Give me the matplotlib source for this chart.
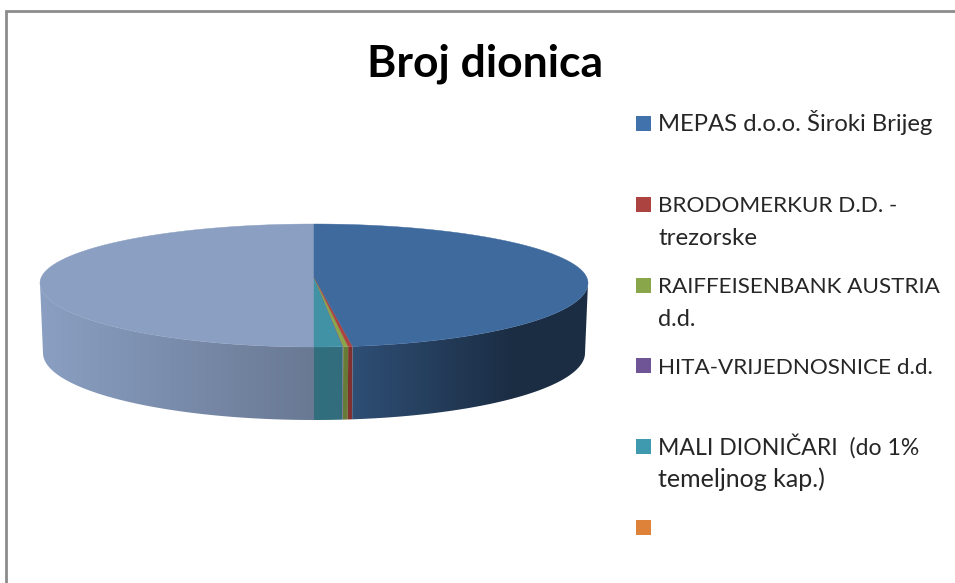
import numpy as np
import matplotlib
matplotlib.use('Agg')
import matplotlib.pyplot as plt
from matplotlib.colors import to_rgb
from matplotlib.patches import Polygon, Rectangle

# Data
title = 'Broj dionica'
labels = ['MEPAS d.o.o. Široki Brijeg', 'BRODOMERKUR D.D. -\ntrezorske',
          'RAIFFEISENBANK AUSTRIA\nd.d.', 'HITA-VRIJEDNOSNICE d.d.',
          'MALI DIONIČARI  (do 1%\ntemeljnog kap.)', '']
shares = [47.75, 0.26, 0.29, 0.03, 1.67, 0.0, 50.0]

# Colours
legend_colors = ['#4272ab', '#ad4340', '#8aa64a', '#6f5596', '#3f9ab0', '#de8239']
top_colors = ['#3f6a9e', '#ad4340', '#8aa64a', '#6f5596', '#4292a6', '#de8239', '#8a9fc2']

# first and second line font sizes of the legend entries
first_sizes = [17.2, 16.2, 16.2, 16.2, 16.6, 16.2]
second_sizes = [0, 17.4, 17.0, 0, 18.0, 0]

plt.rcParams['font.family'] = ['Lato', 'DejaVu Sans']

fig = plt.figure(figsize=(9.55, 5.83), dpi=100)
ax = fig.add_axes([0, 0, 1, 1])


def top_rim(t):
    ry = np.where(np.cos(t) > 0, 59, 64)
    return 314 + 274 * np.sin(t), 283 - ry * np.cos(t)


def bottom_rim(t):
    ry = np.where(np.cos(t) > 0, 59, 67)
    return 314 + 271 * np.sin(t), 353 - ry * np.cos(t)


# side of the pie gets darker going left to right
grad_x = np.linspace(38, 590, 1104)
grad = np.interp(grad_x, [40, 314, 352, 510, 590], [1.0, 0.76, 0.74, 0.43, 0.43])

# slice edges, clockwise from the top
edges = np.radians(np.concatenate([[0], np.cumsum(shares)]) * 3.6)

for i in range(len(shares) - 1, -1, -1):
    if shares[i] == 0:
        continue

    # side
    start, end = max(edges[i], np.pi / 2), min(edges[i + 1], 3 * np.pi / 2)
    if end > start:
        t = np.linspace(start, end, 200)
        xt, yt = top_rim(t)
        xb, yb = bottom_rim(t)
        side = Polygon(np.c_[np.r_[xt, xb[::-1]], np.r_[yt, yb[::-1]]],
                       transform=ax.transData, facecolor='none', edgecolor='none')
        ax.add_patch(side)
        img = grad[None, :, None] * np.array(to_rgb(top_colors[i]))
        im = ax.imshow(img, extent=[38, 590, 430, 270], aspect='auto', zorder=1)
        im.set_clip_path(side)

    # top
    t = np.linspace(edges[i], edges[i + 1], max(int(shares[i] * 8), 2))
    x, y = top_rim(t)
    ax.fill(np.r_[314, x], np.r_[277, y], color=top_colors[i], lw=0.3, zorder=2)

# legend
swatch_y = [123, 204, 285, 365.5, 446.5, 527.5]
for j, (y, c, lab) in enumerate(zip(swatch_y, legend_colors, labels)):
    ax.add_patch(Rectangle((636, y - 7.5), 15, 15, facecolor=c, edgecolor='none'))
    lines = lab.split('\n')
    ax.text(658, y + 8, lines[0], fontsize=first_sizes[j], color='#262626',
            va='baseline', ha='left')
    if len(lines) > 1:
        ax.text(658, y + 40.7, lines[1], fontsize=second_sizes[j], color='#262626',
                va='baseline', ha='left')

# title
ax.text(485.5, 76.5, title, fontsize=32, fontweight='bold', color='black',
        ha='center', va='baseline')

# chart border, only top and left show
ax.plot([6, 6, 955], [583, 10.5, 10.5], color='#8c8c8c', lw=2.0, solid_joinstyle='miter')

ax.set_xlim(0, 955)
ax.set_ylim(583, 0)
ax.axis('off')

fig.savefig('out.png', dpi=100)
